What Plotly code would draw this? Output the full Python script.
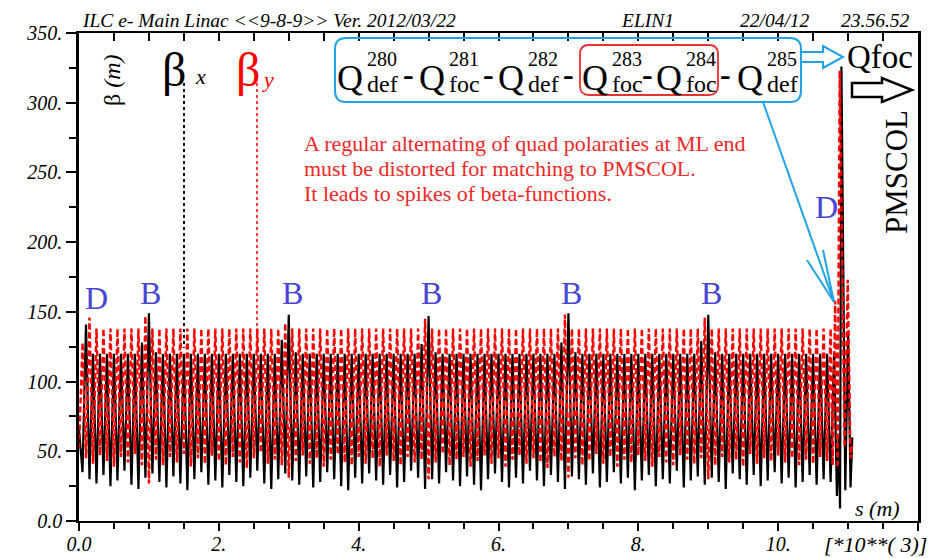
import plotly.graph_objects as go

# ---------------- data ----------------
# regular FODO lattice: QF every 100 m from 100 m, QD half-way between
cell_length_m = 100.0
first_qf_m = 100.0

# start of the linac
s_start_m = [0, 50]
beta_x_start = [66, 35]
beta_y_start = [52, 128]

# beta_x at the focusing quads (maxima)
beta_x_qf = [141, 120, 120, 120, 120, 120, 120, 120, 128, 149,
             121, 120, 120, 120, 120, 120, 120, 120, 120, 120,
             120, 120, 120, 120, 120, 120, 120, 120, 130, 148,
             121, 120, 120, 120, 120, 120, 120, 120, 120, 120,
             120, 120, 120, 120, 120, 120, 120, 120, 127, 147,
             121, 120, 120, 120, 120, 120, 120, 120, 120, 120,
             120, 120, 120, 120, 120, 120, 120, 120, 128, 149,
             121, 120, 120, 120, 120, 120, 120, 120, 120, 120,
             120, 120, 120, 120, 120, 120, 120, 120, 129, 148,
             121, 120, 120, 120, 120, 120, 120, 120, 120, 120,
             120, 120, 120, 120, 120, 120, 120]
# beta_x at the defocusing quads (minima)
beta_x_qd = [30, 27, 33, 25, 29, 36, 26, 23, 31, 34,
             28, 24, 32, 27, 22, 30, 35, 26, 29, 24,
             33, 28, 25, 31, 36, 27, 23, 30, 34, 29,
             26, 32, 24, 28, 35, 30, 25, 22, 31, 27,
             34, 29, 26, 33, 24, 28, 36, 31, 23, 30,
             27, 35, 29, 25, 32, 26, 22, 30, 34, 28,
             24, 31, 27, 36, 29, 25, 33, 28, 23, 32,
             30, 26, 34, 24, 28, 35, 27, 31, 22, 29,
             33, 25, 30, 27, 36, 24, 29, 32, 26, 31,
             28, 23, 34, 30, 26, 33, 25, 29, 35, 27,
             31, 24, 28, 33, 26, 30, 28]
# beta_y at the focusing quads (minima)
beta_y_qf = [45, 41, 47, 43, 39, 46, 42, 48, 40, 27,
             44, 40, 46, 42, 48, 39, 45, 41, 47, 43,
             40, 46, 42, 38, 45, 49, 41, 44, 40, 31,
             43, 47, 41, 45, 39, 44, 48, 42, 40, 46,
             41, 45, 39, 47, 43, 40, 46, 42, 44, 30,
             42, 48, 40, 44, 46, 39, 43, 47, 41, 45,
             39, 44, 47, 41, 45, 42, 38, 46, 43, 31,
             45, 40, 43, 48, 41, 46, 39, 44, 42, 47,
             43, 39, 46, 42, 40, 47, 44, 41, 45, 30,
             40, 46, 42, 44, 39, 48, 41, 45, 43, 47,
             42, 45, 40, 44, 41, 46, 43]
# beta_y at the defocusing quads (maxima)
beta_y_qd = [146, 138, 138, 138, 138, 138, 138, 138, 147, 138,
             138, 138, 138, 138, 138, 138, 138, 138, 138, 138,
             138, 138, 138, 138, 138, 138, 138, 138, 142, 138,
             138, 138, 138, 138, 138, 138, 138, 138, 138, 138,
             138, 138, 138, 138, 138, 138, 138, 138, 145, 138,
             138, 138, 138, 138, 138, 138, 138, 138, 138, 138,
             138, 138, 138, 138, 138, 138, 138, 138, 148, 138,
             138, 138, 138, 138, 138, 138, 138, 138, 138, 138,
             138, 138, 138, 138, 138, 138, 138, 138, 146, 138,
             138, 138, 138, 138, 138, 138, 138, 138, 138, 138,
             138, 138, 138, 138, 138, 138, 138]

# matching section at the ML end (spikes)
s_end_x_m = [10800, 10840, 10865, 10885, 10905, 10960, 11000, 11035, 11060]
beta_x_end = [121, 18, 60, 9, 326, 22, 135, 24, 60]
s_end_y_m = [10780, 10815, 10850, 10880, 10950, 10995, 11035, 11060]
beta_y_end = [40, 158, 38, 323, 53, 173, 45, 55]

x_ticks_km = [0, 2, 4, 6, 8, 10, 12]
x_tick_text = ["0.0", "2.", "4.", "6.", "8.", "10.", " "]
y_ticks = [0, 50, 100, 150, 200, 250, 300, 350]
y_tick_text = ["0.0", "50.", "100.", "150.", "200.", "250.", "300.", "350."]

# ---------------- build series ----------------
n = len(beta_x_qf)
s_qf = [first_qf_m + i * cell_length_m for i in range(n)]
s_qd = [v + cell_length_m / 2 for v in s_qf]

sx = s_start_m + [v for p in zip(s_qf, s_qd) for v in p] + s_end_x_m
bx = beta_x_start + [v for p in zip(beta_x_qf, beta_x_qd) for v in p] + beta_x_end
sy = s_start_m + [v for p in zip(s_qf, s_qd) for v in p] + s_end_y_m
by = beta_y_start + [v for p in zip(beta_y_qf, beta_y_qd) for v in p] + beta_y_end

# page offset of the figure inside the browser window
OFF = 8
W, H = 924, 552
# plot area in window pixels: x 79..918, y 33..521
ML, MR, MT, MB = 79 - OFF, W - (918 - OFF), 33 - OFF, H - (521 - OFF)
PW, PH = W - ML - MR, H - MT - MB
X0S, Y1S = 79, 521  # window coordinates of plot origin


def px(x):
    return (x - X0S) / PW


def py(y):
    return (Y1S - y) / PH


SERIF = "Liberation Serif"
BLUE_LINE = "#1fa3e6"
BLUE_TXT = "#4646d2"
RED_TXT = "#f02828"

fig = go.Figure()
fig.add_trace(go.Scatter(x=[v / 1000 for v in sx], y=bx, mode="lines",
                         line=dict(color="black", width=2.2), hoverinfo="skip"))
fig.add_trace(go.Scatter(x=[v / 1000 for v in sy], y=by, mode="lines",
                         line=dict(color="#ff0000", width=2.4, dash="6px,3px"),
                         hoverinfo="skip"))
fig.add_trace(go.Scatter(x=[None], y=[None], xaxis="x2", showlegend=False))

ann = []


def txt(x, y, text, size, color="black", xa="center", ya="middle", angle=0,
        italic=False, bold=False):
    ann.append(dict(x=px(x), y=py(y), xref="paper", yref="paper", text=text,
                    showarrow=False, xanchor=xa, yanchor=ya, textangle=angle,
                    font=dict(size=size, color=color, family=SERIF,
                              style="italic" if italic else "normal",
                              weight="bold" if bold else "normal")))


# header
txt(80, 20, "ILC e- Main Linac &lt;&lt;9-8-9&gt;&gt; Ver. 2012/03/22", 19.5,
    xa="left", italic=True)
txt(647, 20, "ELIN1", 19.5, italic=True)
txt(775, 20, "22/04/12", 19.5, italic=True)
txt(875, 20, "23.56.52", 19.5, italic=True)

# axis labels
txt(112, 80, "β <i>(m)</i>", 24, angle=-90)
txt(877, 508, "<i>s (m)</i>", 22)
txt(822, 544, "[*10**( 3)]", 22, xa="left", italic=True)

# legend-style labels
txt(174, 70, "β", 48)
txt(200, 76, "x", 22, italic=True)
txt(248, 70, "β", 48, color="#ff0000")
txt(268, 79, "y", 22, color="#ff0000", italic=True)

# region labels
txt(96, 298, "D", 32, color=BLUE_TXT)
for bxp in [150, 292, 431, 571, 711]:
    txt(bxp, 293, "B", 32, color=BLUE_TXT)
txt(826, 207, "D", 32, color=BLUE_TXT)

# red note
txt(302, 143, "A regular alternating of quad polaraties at ML end", 22,
    color=RED_TXT, xa="left")
txt(302, 168, "must be distorted for matching to PMSCOL.", 22,
    color=RED_TXT, xa="left")
txt(302, 193, "It leads to spikes of beta-functions.", 22,
    color=RED_TXT, xa="left")

# quadrupole sequence
quads = [(350, "280", "def"), (432, "281", "foc"), (511, "282", "def"),
         (595, "283", "foc"), (669, "284", "foc"), (750, "285", "def")]
for qx, sup, sub in quads:
    txt(qx, 78, "Q", 36)
    txt(qx + 15, 59, sup, 20, xa="left")
    txt(qx + 15, 84, sub, 24, xa="left")
for dx in [408, 488, 568, 647, 725]:
    txt(dx, 74, "-", 32, bold=True)

txt(880, 57, "Qfoc", 33)
txt(896, 172, "PMSCOL", 31, angle=-90)

shapes = []


def rounded_rect(x0, y0, x1, y1, r):
    rx, ry = r / PW, r / PH
    X0, X1, Y0, Y1 = px(x0), px(x1), py(y0), py(y1)
    return (f"M {X0+rx},{Y0} L {X1-rx},{Y0} Q {X1},{Y0} {X1},{Y0-ry} "
            f"L {X1},{Y1+ry} Q {X1},{Y1} {X1-rx},{Y1} L {X0+rx},{Y1} "
            f"Q {X0},{Y1} {X0},{Y1+ry} L {X0},{Y0-ry} Q {X0},{Y0} {X0+rx},{Y0} Z")


def poly(points, close=True):
    p = "M " + " L ".join(f"{px(a)},{py(b)}" for a, b in points)
    return p + (" Z" if close else "")


shapes.append(dict(type="path", xref="paper", yref="paper",
                   path=rounded_rect(335, 38, 801, 102, 11),
                   line=dict(color=BLUE_LINE, width=2)))
shapes.append(dict(type="path", xref="paper", yref="paper",
                   path=rounded_rect(580, 45, 718, 95, 9),
                   line=dict(color="#e8322f", width=1.8)))
# hollow blue arrow to Qfoc
shapes.append(dict(type="path", xref="paper", yref="paper",
                   path=poly([(801, 52), (823, 52), (823, 46), (843, 57),
                              (823, 68), (823, 62), (801, 62)], close=False),
                   line=dict(color=BLUE_LINE, width=2)))
# hollow black arrow to PMSCOL
shapes.append(dict(type="path", xref="paper", yref="paper",
                   path=poly([(852, 83), (882, 83), (882, 78), (912, 90),
                              (882, 102), (882, 97), (852, 97)]),
                   line=dict(color="black", width=2.5)))
# blue pointer from box to spike
for a in [(763, 102), (807, 260), (823, 250)]:
    shapes.append(dict(type="line", xref="paper", yref="paper",
                       x0=px(a[0]), y0=py(a[1]), x1=px(834), y1=py(302),
                       line=dict(color=BLUE_LINE, width=2)))
# dotted legend lines
shapes.append(dict(type="line", xref="paper", yref="paper",
                   x0=px(184), y0=py(83), x1=px(184), y1=py(348),
                   line=dict(color="black", width=2, dash="dot")))
shapes.append(dict(type="line", xref="paper", yref="paper",
                   x0=px(257), y0=py(83), x1=px(257), y1=py(350),
                   line=dict(color="#ff0000", width=1.5, dash="dot")))

tickfont = dict(family=SERIF, size=20, color="black", style="italic")
fig.update_layout(
    width=W, height=H,
    margin=dict(l=ML, r=MR, t=MT, b=MB, autoexpand=False),
    paper_bgcolor="white", plot_bgcolor="white", showlegend=False,
    annotations=ann, shapes=shapes,
    xaxis=dict(range=[0, 12], showgrid=False, zeroline=False, automargin=False,
               showline=True, linecolor="black", linewidth=2, mirror=True,
               ticks="outside", ticklen=8, tickwidth=1.5, tickcolor="black",
               tickmode="array", tickvals=x_ticks_km, ticktext=x_tick_text,
               ticklabelstandoff=-4,
               minor=dict(tickmode="linear", tick0=0, dtick=0.5,
                          ticks="outside", ticklen=6, tickcolor="black",
                          tickwidth=1.5),
               tickfont=tickfont),
    xaxis2=dict(range=[0, 12], overlaying="x", side="top", anchor="y",
                automargin=False,
                showgrid=False, zeroline=False, showline=False,
                showticklabels=False, ticks="inside", ticklen=8,
                tickwidth=1.5, tickcolor="black", tickmode="linear",
                tick0=0, dtick=0.5),
    yaxis=dict(range=[0, 350], showgrid=False, zeroline=False, automargin=False,
               showline=True, linecolor="black", linewidth=2.5, mirror=True,
               ticks="outside", ticklen=10, tickwidth=1.5, tickcolor="black",
               tickmode="array", tickvals=y_ticks, ticktext=y_tick_text,
               minor=dict(tickmode="linear", tick0=0, dtick=25,
                          ticks="outside", ticklen=7, tickcolor="black",
                          tickwidth=1.5),
               tickfont=tickfont),
)

fig.write_html("out.html")
